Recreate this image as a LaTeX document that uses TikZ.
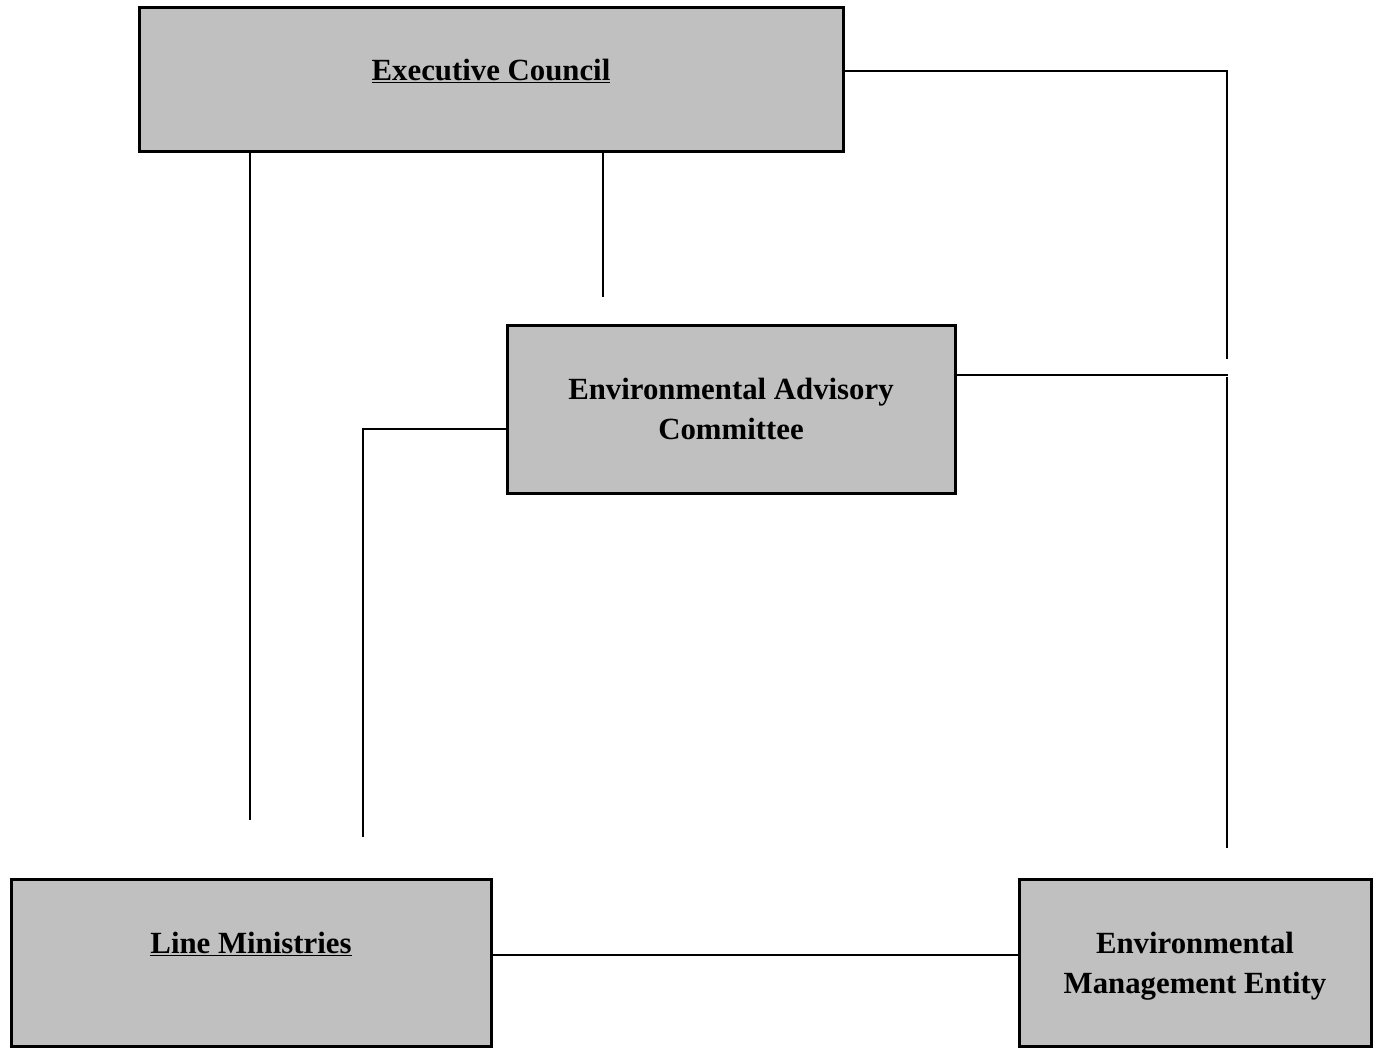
\documentclass[tikz,border=0pt]{standalone}
\usepackage{fontspec}
\setmainfont{Liberation Serif}
\newcommand{\boxtext}[2]{\raisebox{#1}[0pt][0pt]{#2}}
\newcommand{\twolines}[2]{\begin{tabular}[b]{@{}c@{}}#1\\#2\end{tabular}}
\begin{document}
\begin{tikzpicture}[x=1pt,y=-1pt,
  box/.style={draw=black,line width=3pt,fill={rgb,255:red,192;green,192;blue,192},rectangle,inner sep=0pt,
    font=\fontsize{30.8}{40}\selectfont\bfseries},
  conn/.style={draw=black,line width=1.6pt}]
\useasboundingbox (0,0) rectangle (1378,1047);
\fill[white] (0,0) rectangle (1378,1047);
\node[box,minimum width=704pt,minimum height=144pt] (ec) at (491,79) {\boxtext{-1pt}{\underline{Executive Council}}};
\node[box,minimum width=448pt,minimum height=168pt] (eac) at (731,409) {\boxtext{-30pt}{\twolines{Environmental Advisory}{Committee}}};
\node[box,minimum width=480pt,minimum height=167pt] (lm) at (251,962.5) {\boxtext{9.5pt}{\underline{Line Ministries}}};
\node[box,minimum width=352pt,minimum height=167pt] (eme) at (1195,962.5) {\boxtext{-30.5pt}{\twolines{Environmental}{Management Entity}}};
\coordinate (a1) at (250,820);
\coordinate (a2) at (603,297);
\coordinate (a3) at (1227,359);
\coordinate (a4) at (1228,375);
\coordinate (a5) at (1227,377);
\coordinate (a6) at (1227,848);
\coordinate (a7) at (363,837);
\draw[conn] (ec.south -| a1) -- (a1);
\draw[conn] (ec.south -| a2) -- (a2);
\draw[conn] (ec.east |- 0,71) -| (a3);
\draw[conn] (eac.east |- a4) -- (a4);
\draw[conn] (a5) -- (a6);
\draw[conn] (eac.west |- 0,429) -| (a7);
\draw[conn] (lm.east |- 0,955) -- (eme.west |- 0,955);
\end{tikzpicture}
\end{document}
